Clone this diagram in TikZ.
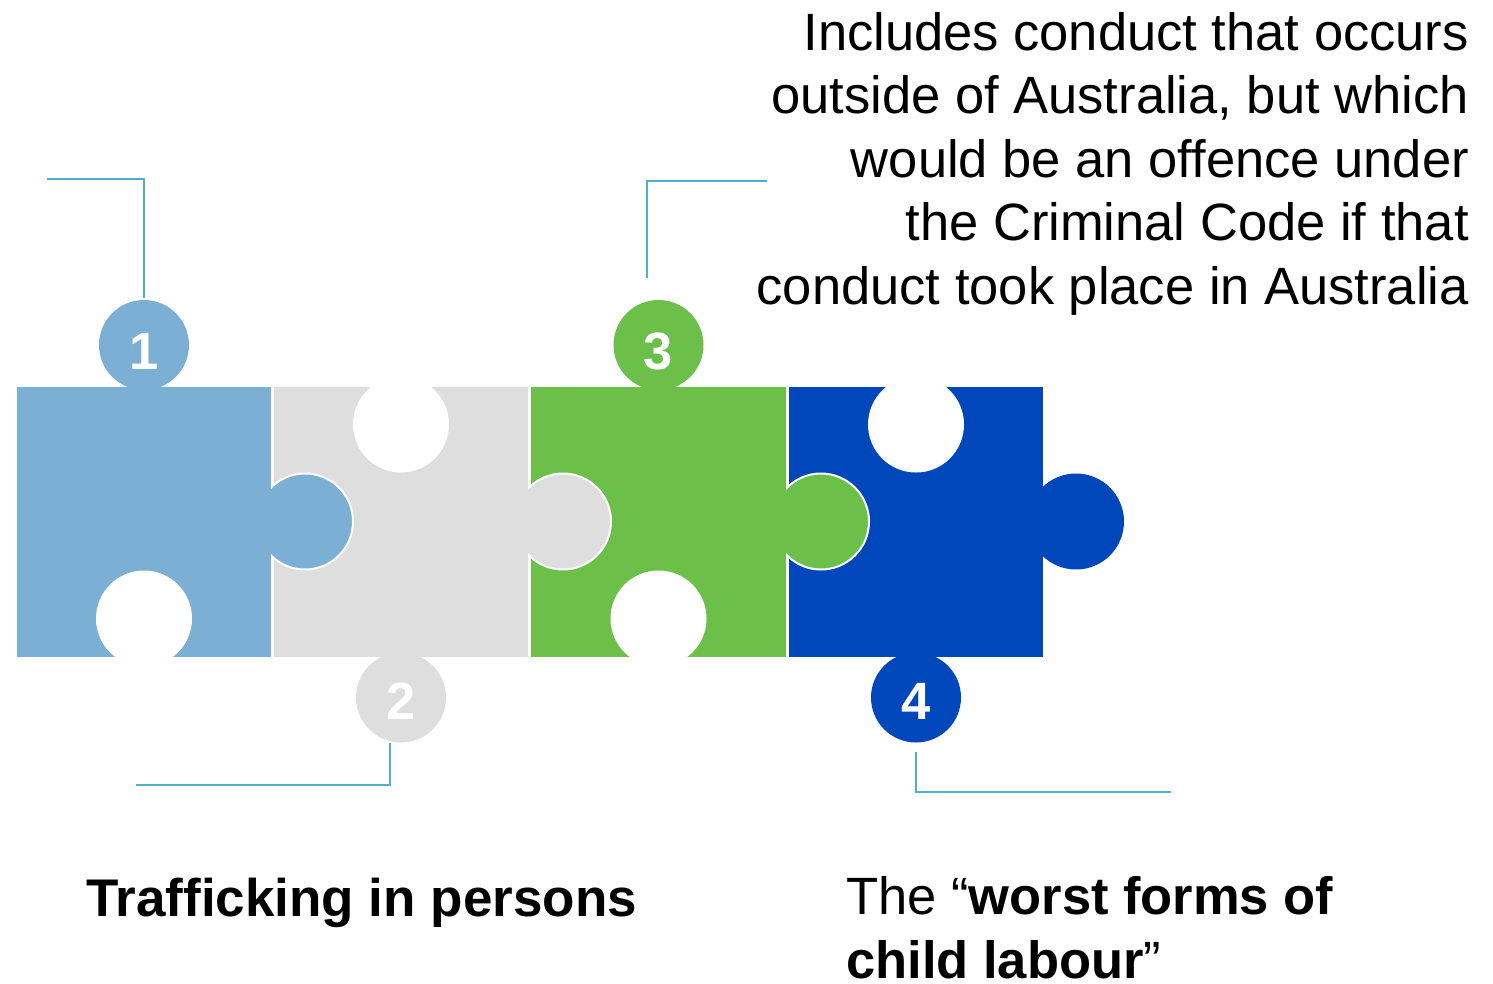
\documentclass[tikz,border=0pt]{standalone}
\usepackage{fontspec}
\setmainfont{Liberation Sans}
\definecolor{pcA}{HTML}{7BAFD4}
\definecolor{pcB}{HTML}{DEDEDE}
\definecolor{pcC}{HTML}{6CC04A}
\definecolor{pcD}{HTML}{0047BB}
\definecolor{conncol}{HTML}{4EB0CA}
\tikzset{
  conn/.style={draw=conncol, line width=2pt},
  vtab/.style={circle, inner sep=0pt, minimum size=90pt, draw=none},
  numtext/.style={text=white, font=\fontsize{52.5}{60}\selectfont\bfseries, inner sep=0pt, anchor=base},
  bigtext/.style={font=\fontsize{52.5}{63.5}\selectfont, inner sep=0pt},
}
\begin{document}
\begin{tikzpicture}[x=1pt,y=-1pt]
\useasboundingbox (0,0) rectangle (1493,983);
% piece rectangles
\fill[pcA] (17,386.5) rectangle (271,656.5);
\fill[pcB] (274,386.5) rectangle (528,656.5);
\fill[pcC] (531,386.5) rectangle (786,656.5);
\fill[pcD] (789,386.5) rectangle (1043,656.5);
% holes
\fill[white] (144,618.5) circle[radius=48pt];
\fill[white] (401,424.5) circle[radius=48pt];
\fill[white] (658.5,618.5) circle[radius=48pt];
\fill[white] (916,424.5) circle[radius=48pt];
% vertical tabs
\node[vtab, fill=pcA] (tab1) at (144,345) {};
\node[vtab, fill=pcB] (tab2) at (401,697.5) {};
\node[vtab, fill=pcC] (tab3) at (658.5,345) {};
\node[vtab, fill=pcD] (tab4) at (916,697.5) {};
% horizontal tabs
\fill[pcA] (305,521.5) circle[radius=48pt];
\begin{scope}
\clip (271,0) rectangle (600,983);
\draw[white, line width=2pt] (305,521.5) circle[radius=48pt];
\end{scope}
\fill[pcB] (563,521.5) circle[radius=48pt];
\begin{scope}
\clip (528,0) rectangle (800,983);
\draw[white, line width=2pt] (563,521.5) circle[radius=48pt];
\end{scope}
\fill[pcC] (821,521.5) circle[radius=48pt];
\begin{scope}
\clip (786,0) rectangle (1000,983);
\draw[white, line width=2pt] (821,521.5) circle[radius=48pt];
\end{scope}
\fill[pcD] (1076,521.5) circle[radius=48pt];
% numbers
\node[numtext] (n1) at (144,369) {1};
\node[numtext] (n2) at (401,719) {2};
\node[numtext] (n3) at (658.5,369) {3};
\node[numtext] (n4) at (916,719) {4};
% connectors
\coordinate (c1) at (47,179);
\coordinate (c1e) at (144,298);
\coordinate (c2) at (136,785);
\coordinate (c2e) at (390,743);
\coordinate (c3) at (767,181);
\coordinate (c3e) at (647,278);
\coordinate (c4) at (1171,792);
\coordinate (c4e) at (916,752);
\draw[conn] (c1) -| (c1e);
\draw[conn] (c2) -| (c2e);
\draw[conn] (c3) -| (c3e);
\draw[conn] (c4) -| (c4e);
% texts
\node[bigtext, anchor=base east, align=right] (desc) at (1469,304)
  {Includes conduct that occurs\\outside of Australia, but which\\would be an offence under\\the Criminal Code if that\\conduct took place in Australia};
\node[bigtext, anchor=base west, font=\fontsize{53}{63.5}\selectfont\bfseries] (t2) at (86,916) {Trafficking in persons};
\node[bigtext, anchor=base west, align=left, font=\fontsize{52.5}{64}\selectfont] (t4) at (846,978)
  {The “\textbf{worst forms of}\\\textbf{child labour}”};
\end{tikzpicture}
\end{document}
